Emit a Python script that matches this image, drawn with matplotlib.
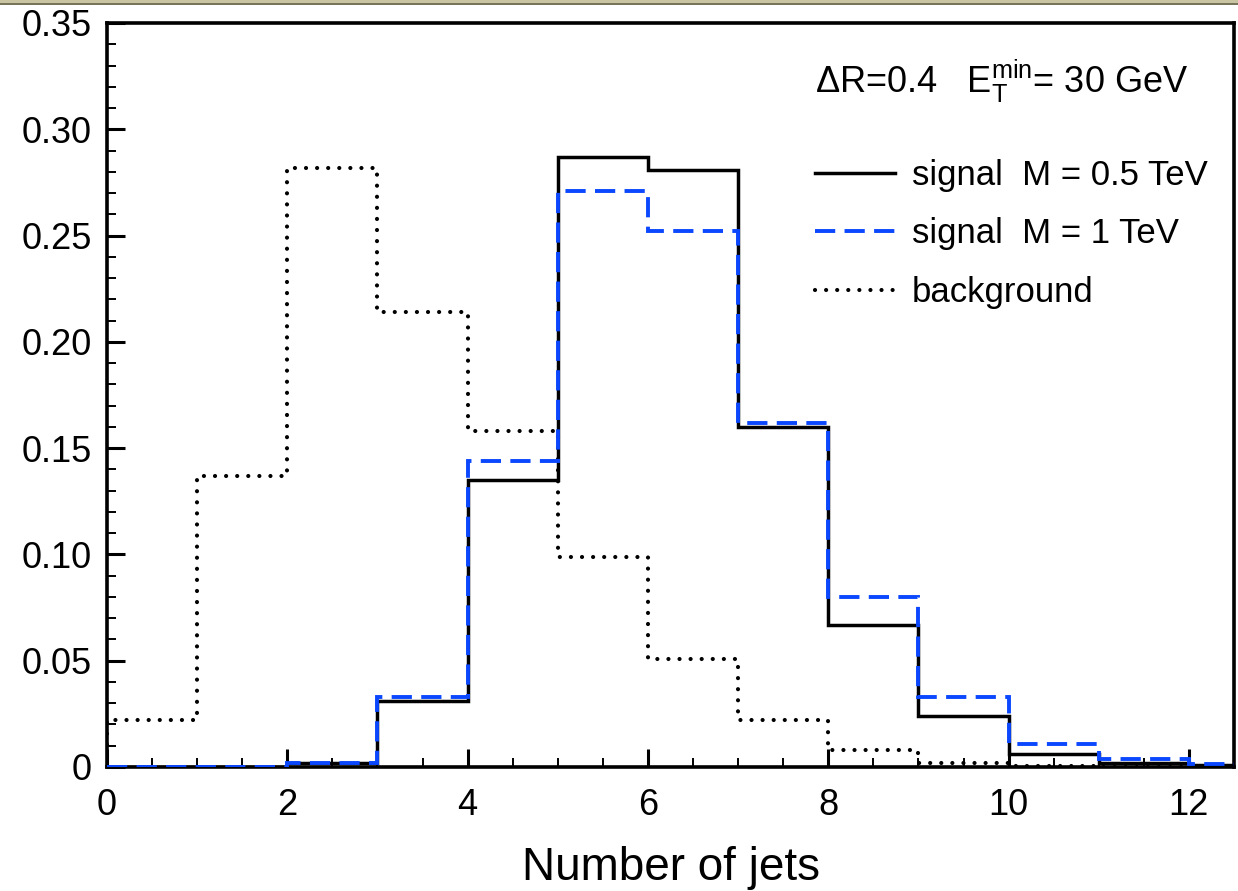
"""
Jet multiplicity for signal (two masses) and background, normalised.
"""

import matplotlib
matplotlib.use("Agg")
import matplotlib.pyplot as plt
from matplotlib.patches import Rectangle
from matplotlib.lines import Line2D
from matplotlib.ticker import MultipleLocator, FuncFormatter

# ============================== data =========================================

bin_edges = [0, 1, 2, 3, 4, 5, 6, 7, 8, 9, 10, 11, 12, 13]

signal_05 = [0.0, 0.0, 0.002, 0.031, 0.135, 0.287, 0.281, 0.160,
             0.067, 0.024, 0.006, 0.0017, 0.001]
signal_1 = [0.0, 0.0, 0.002, 0.033, 0.144, 0.271, 0.252, 0.162,
            0.080, 0.033, 0.011, 0.0036, 0.0013]
background = [0.022, 0.137, 0.282, 0.214, 0.158, 0.099, 0.051, 0.022,
              0.008, 0.002, 0.0007, 0.0002, 0.0]

labels = ["signal  M = 0.5 TeV", "signal  M = 1 TeV", "background"]

# ============================== styles =======================================

BLUE = "#0a47ff"
DOTS = (0, (0.01, 2.65))
DASH = (0, (5.2, 2.4))

# ============================== plot =========================================

plt.rcParams["font.family"] = ["Liberation Sans", "DejaVu Sans"]
plt.rcParams["mathtext.fontset"] = "custom"
plt.rcParams["mathtext.rm"] = "Liberation Sans"
plt.rcParams["mathtext.it"] = "Liberation Sans:italic"

fig = plt.figure(figsize=(12.38, 8.91), dpi=100)
ax = fig.add_axes([107 / 1238, 1 - 767 / 891, 1127 / 1238, 744 / 891])

# screenshot strip on top
fig.patches.append(Rectangle((0, 1 - 4 / 891), 1, 4 / 891, transform=fig.transFigure,
                             facecolor="#c9c4a2", edgecolor="none"))
fig.patches.append(Rectangle((0, 1 - 5 / 891), 1, 1.5 / 891, transform=fig.transFigure,
                             facecolor="#77745a", edgecolor="none"))

ax.stairs(signal_05, bin_edges, color="black", lw=2.5, zorder=3)
bg = ax.stairs(background, bin_edges, color="black", lw=3.0, linestyle=DOTS, zorder=2)
bg.set_capstyle("round")
ax.stairs(signal_1, bin_edges, color=BLUE, lw=2.8, linestyle=DASH, zorder=4)

ax.set_xlim(0, 12.5)
ax.set_ylim(0, 0.35)

ax.xaxis.set_major_locator(MultipleLocator(2))
ax.xaxis.set_minor_locator(MultipleLocator(0.5))
ax.yaxis.set_major_locator(MultipleLocator(0.05))
ax.yaxis.set_minor_locator(MultipleLocator(0.01))
ax.yaxis.set_major_formatter(FuncFormatter(lambda v, p: "0" if abs(v) < 1e-9 else "%.2f" % v))

ax.tick_params(which="both", direction="in", top=False, right=False, labelsize=26)
ax.tick_params(which="major", length=13, width=2.2)
ax.tick_params(which="minor", length=6.5, width=1.4)
ax.tick_params(axis="x", which="major", pad=15)
ax.tick_params(axis="y", which="major", pad=11)
for sp in ax.spines.values():
    sp.set_linewidth(2.6)

ax.set_xlabel("Number of jets", fontsize=33, labelpad=17)

ax.text(0.628, 0.906, r"$\Delta$R=0.4   E$_{\rm T}^{\rm min}$= 30 GeV",
        transform=ax.transAxes, fontsize=26, va="baseline", ha="left")

leg_handles = [
    Line2D([], [], color="black", lw=2.5),
    Line2D([], [], color=BLUE, lw=2.8, linestyle=DASH),
    Line2D([], [], color="black", lw=3.0, linestyle=DOTS, dash_capstyle="round"),
]
ax.legend(leg_handles, labels, loc="upper left", bbox_to_anchor=(0.628, 0.817),
          frameon=False, fontsize=25, handlelength=2.3, handletextpad=0.5,
          labelspacing=0.73, borderpad=0, borderaxespad=0)

fig.savefig("out.png", dpi=100)
